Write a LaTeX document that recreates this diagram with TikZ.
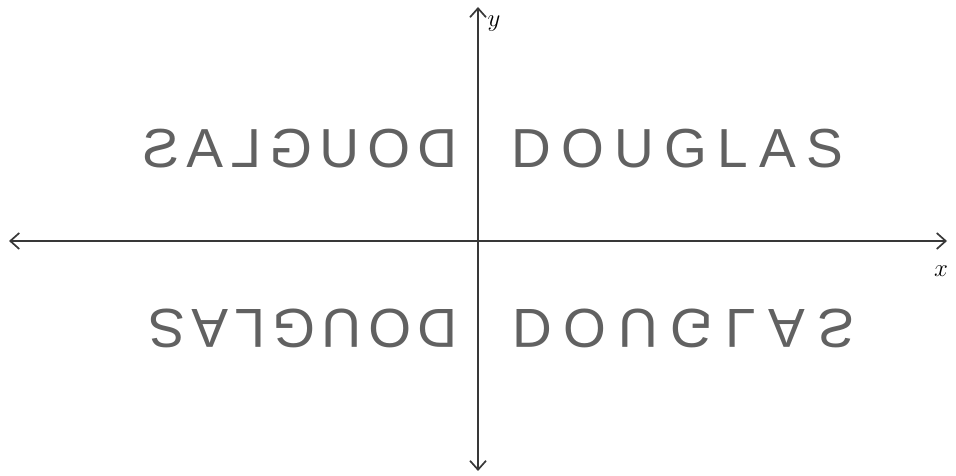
\documentclass[tikz,border=0pt]{standalone}
\usepackage{fontspec}
\newfontfamily\hand{Liberation Sans}
\usetikzlibrary{arrows.meta}

\tikzset{
  axis/.style={line width=1.7pt, draw=black!78,
    {Straight Barb[length=9pt,width=16pt]}-{Straight Barb[length=9pt,width=16pt]}},
  word/.style={inner sep=0pt, text=black!62,
    font={\hand\fontsize{55}{60}\selectfont\addfontfeature{LetterSpace=#1}}},
  word/.default=14,
  axlabel/.style={inner sep=0pt, font=\fontsize{24}{28}\selectfont}
}

\begin{document}
\begin{tikzpicture}[x=1pt,y=1pt]
  \useasboundingbox (0,0) rectangle (956,476);

  % ejes
  \coordinate (xl) at (9,235);
  \coordinate (xr) at (947,235);
  \coordinate (yb) at (478,5);
  \coordinate (yt) at (478,469);
  \draw[axis] (xl) -- (xr);
  \draw[axis] (yb) -- (yt);
  \node[axlabel] (xlab) at (941,205) {$x$};
  \node[axlabel] (ylab) at (494,452) {$y$};

  % palabra original y sus reflexiones
  \node[word=19] (wordI) at (677,327) {DOUGLAS};
  \node[word=14, xscale=-1] (wordII) at (300,327) {DOUGLAS};
  \node[word=12, rotate=180] (wordIII) at (303,148) {DOUGLAS};
  \node[word=22, yscale=-1] (wordIV) at (683,148) {DOUGLAS};
\end{tikzpicture}
\end{document}
